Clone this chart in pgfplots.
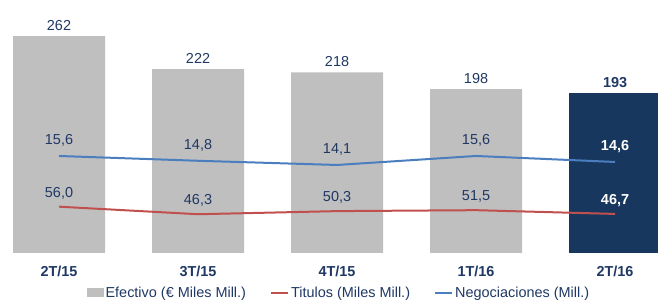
\documentclass[border=0pt]{standalone}
\usepackage{pgfplots}
\pgfplotsset{compat=1.18}
\usepackage{fontspec}
\setmainfont{Liberation Sans}
\definecolor{barg}{HTML}{BFBFBF}
\definecolor{navy}{HTML}{17375E}
\definecolor{txt}{HTML}{1F3864}
\definecolor{lblue}{HTML}{4A7EBF}
\definecolor{lred}{HTML}{C0504D}
\pgfplotsset{
  base/.style={scale only axis, width=658bp, height=248.4bp, at={(0bp,47bp)}, anchor=south west,
    xmin=-0.4245, xmax=4.309, /pgf/number format/assume math mode=true},
  dec/.style={/pgf/number format/use comma, /pgf/number format/fixed,
    /pgf/number format/fixed zerofill, /pgf/number format/precision=1},
  barlegend/.style={legend image code/.code={\fill[barg] (0bp,-4.5bp) rectangle (17bp,4.5bp);}},
}
\begin{document}
\begin{tikzpicture}[font=\fontsize{14.5}{17}\selectfont]
\useasboundingbox (0,0) rectangle (658bp,300bp);
\begin{axis}[base, ymin=0, ymax=300,
  axis line style={draw=none}, ytick=\empty, xtick={0,1,2,3,4},
  xticklabels={2T/15,3T/15,4T/15,1T/16,2T/16}, major tick length=0pt,
  xticklabel style={font=\fontsize{14.5}{17}\selectfont\bfseries, text=txt, yshift=-10bp},
  legend style={draw=none, fill=none, at={(axis description cs:0.515,-0.161)}, anchor=center,
    legend columns=3, font=\fontsize{14.5}{17}\selectfont, text=txt,
    nodes={inner xsep=2bp},
    /tikz/every even column/.append style={column sep=22bp}},
  ]
\addplot[ybar, bar width=92bp, bar shift=0pt, fill=barg, draw=none, barlegend,
  nodes near coords, point meta=y,
  nodes near coords style={text=txt, anchor=south, yshift=2bp}]
  coordinates {(0,262)(1,222)(2,218)(3,198)};
\addlegendentry{Efectivo (€ Miles Mill.)}
\addlegendimage{lred, line width=2bp, line legend}
\addlegendentry{Titulos (Miles Mill.)}
\addlegendimage{lblue, line width=2bp, line legend}
\addlegendentry{Negociaciones (Mill.)}
\addplot[ybar, bar width=92bp, bar shift=0pt, fill=navy, draw=none, forget plot,
  nodes near coords, point meta=y,
  nodes near coords style={text=txt, anchor=south, yshift=2bp, font=\fontsize{14.5}{17}\selectfont\bfseries}]
  coordinates {(4,193)};
\end{axis}
\begin{axis}[base, hide axis, ymin=-0.57, ymax=40.83, dec]
\addplot[lblue, line width=2bp] coordinates {(0,15.6)(1,14.8)(2,14.1)(3,15.6)(4,14.6)};
\addplot[draw=none, nodes near coords, point meta=y,
  nodes near coords style={text=txt, anchor=south, yshift=6bp}]
  coordinates {(0,15.6)(1,14.8)(2,14.1)(3,15.6)};
\addplot[draw=none, nodes near coords, point meta=y,
  nodes near coords style={text=white, anchor=south, yshift=6bp, font=\fontsize{14.5}{17}\selectfont\bfseries}]
  coordinates {(4,14.6)};
\end{axis}
\begin{axis}[base, hide axis, ymin=-3.4, ymax=315.1, dec]
\addplot[lred, line width=2bp] coordinates {(0,56.0)(1,46.3)(2,50.3)(3,51.5)(4,46.7)};
\addplot[draw=none, nodes near coords, point meta=y,
  nodes near coords style={text=txt, anchor=south, yshift=4bp}]
  coordinates {(0,56.0)(1,46.3)(2,50.3)(3,51.5)};
\addplot[draw=none, nodes near coords, point meta=y,
  nodes near coords style={text=white, anchor=south, yshift=4bp, font=\fontsize{14.5}{17}\selectfont\bfseries}]
  coordinates {(4,46.7)};
\end{axis}
\end{tikzpicture}
\end{document}
